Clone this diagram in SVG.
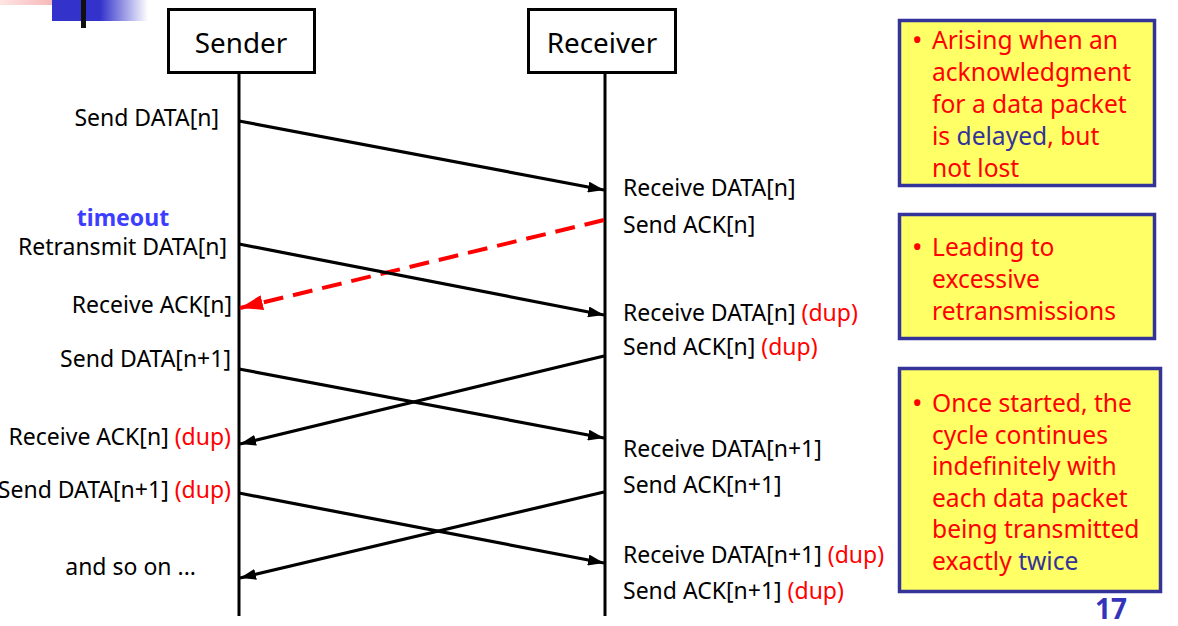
<svg xmlns="http://www.w3.org/2000/svg" width="1178" height="626" viewBox="0 0 1178 626">
<style>
  .lbl { font-family: "Noto Sans", "Liberation Sans", sans-serif; font-size: 23px; fill: #000; }
  .dup { fill: #ff0000; }
  .head { font-family: "Noto Sans", "Liberation Sans", sans-serif; font-size: 27.8px; fill: #000; text-anchor: middle; }
  .box { fill: #ffff66; stroke: #333399; stroke-width: 3.5; }
  .note { font-family: "Noto Sans", "Liberation Sans", sans-serif; font-size: 24.6px; fill: #ff0000; }
  .bul { font-family: "Noto Sans", "Liberation Sans", sans-serif; font-size: 28px; fill: #ff0000; }
  .blue { fill: #333399; }
  .actor { fill: #fff; stroke: #000; stroke-width: 3; }
  .life { stroke: #000; stroke-width: 3; }
  .msg { stroke: #000; stroke-width: 3.2; fill: none; marker-end: url(#ah); }
  .msgr { stroke: #ff0000; stroke-width: 4; fill: none; stroke-dasharray: 20 10; marker-end: url(#ahr); }
</style>
<defs>
  <marker id="ah" markerUnits="userSpaceOnUse" markerWidth="17" markerHeight="11" refX="16" refY="5.5" orient="auto">
    <path d="M0,0 L16,5.5 L0,11 z" fill="#000"/>
  </marker>
  <marker id="ahr" markerUnits="userSpaceOnUse" markerWidth="24" markerHeight="15" refX="23" refY="7.5" orient="auto">
    <path d="M0,0 L23,7.5 L0,15 z" fill="#ff0000"/>
  </marker>
  <linearGradient id="pink" x1="0" y1="0" x2="1" y2="0">
    <stop offset="0" stop-color="#ffe4e4"/>
    <stop offset="1" stop-color="#f4a8a8"/>
  </linearGradient>
  <linearGradient id="bluefade" x1="0" y1="0" x2="1" y2="0">
    <stop offset="0" stop-color="#3333cc"/>
    <stop offset="0.5" stop-color="#3333cc"/>
    <stop offset="1" stop-color="#ffffff"/>
  </linearGradient>
</defs>
<rect width="1178" height="626" fill="#fff"/>

<!-- corner decoration -->
<rect x="0" y="0" width="72" height="5" fill="url(#pink)"/>
<rect x="52" y="0" width="96" height="21" fill="url(#bluefade)"/>
<rect x="81" y="0" width="5" height="28" fill="#111"/>

<!-- actors -->
<g id="sender">
  <line class="life" x1="239" y1="74" x2="239" y2="616"/>
  <rect class="actor" x="168.5" y="9.5" width="146" height="63"/>
  <text class="head" x="241" y="53">Sender</text>
</g>
<g id="receiver">
  <line class="life" x1="605" y1="74" x2="605" y2="616"/>
  <rect class="actor" x="528.5" y="9.5" width="147" height="63"/>
  <text class="head" x="602" y="53">Receiver</text>
</g>

<!-- connectors -->
<g id="connectors">
  <line class="msg" x1="239" y1="121" x2="604" y2="190"/>
  <line class="msgr" x1="604" y1="220" x2="240" y2="308"/>
  <line class="msg" x1="239" y1="244" x2="604" y2="315"/>
  <line class="msg" x1="604" y1="356" x2="240" y2="444"/>
  <line class="msg" x1="239" y1="369" x2="604" y2="438"/>
  <line class="msg" x1="604" y1="492" x2="240" y2="578"/>
  <line class="msg" x1="239" y1="493" x2="604" y2="563"/>
</g>

<!-- sender labels -->
<g id="sender-labels">
  <text class="lbl" x="219" y="126" text-anchor="end">Send DATA[n]</text>
  <text x="123" y="226" text-anchor="middle" font-family="Noto Sans, Liberation Sans, sans-serif" font-size="23" font-weight="bold" fill="#3d3dff">timeout</text>
  <text class="lbl" x="227" y="255" text-anchor="end">Retransmit DATA[n]</text>
  <text class="lbl" x="232" y="313" text-anchor="end">Receive ACK[n]</text>
  <text class="lbl" x="231" y="367" text-anchor="end">Send DATA[n+1]</text>
  <text class="lbl" x="231" y="445" text-anchor="end">Receive ACK[n] <tspan class="dup">(dup)</tspan></text>
  <text class="lbl" x="231" y="498" text-anchor="end">Send DATA[n+1] <tspan class="dup">(dup)</tspan></text>
  <text class="lbl" x="196" y="575" text-anchor="end">and so on ...</text>
</g>

<!-- receiver labels -->
<g id="receiver-labels">
  <text class="lbl" x="623" y="196">Receive DATA[n]</text>
  <text class="lbl" x="623" y="233">Send ACK[n]</text>
  <text class="lbl" x="623" y="321">Receive DATA[n] <tspan class="dup">(dup)</tspan></text>
  <text class="lbl" x="623" y="355">Send ACK[n] <tspan class="dup">(dup)</tspan></text>
  <text class="lbl" x="623" y="457">Receive DATA[n+1]</text>
  <text class="lbl" x="623" y="493">Send ACK[n+1]</text>
  <text class="lbl" x="623" y="563">Receive DATA[n+1] <tspan class="dup">(dup)</tspan></text>
  <text class="lbl" x="623" y="599">Send ACK[n+1] <tspan class="dup">(dup)</tspan></text>
</g>

<!-- notes -->
<g id="note1">
  <rect class="box" x="899.5" y="20.5" width="255" height="165"/>
  <text class="bul" x="912" y="50">•</text>
  <text class="note" x="932" y="49">Arising when an</text>
  <text class="note" x="932" y="81">acknowledgment</text>
  <text class="note" x="932" y="113">for a data packet</text>
  <text class="note" x="932" y="145">is <tspan class="blue">delayed</tspan>, but</text>
  <text class="note" x="932" y="177">not lost</text>
</g>
<g id="note2">
  <rect class="box" x="899.5" y="214.5" width="255" height="124"/>
  <text class="bul" x="912" y="257">•</text>
  <text class="note" x="932" y="256">Leading to</text>
  <text class="note" x="932" y="288">excessive</text>
  <text class="note" x="932" y="320">retransmissions</text>
</g>
<g id="note3">
  <rect class="box" x="899.5" y="368.5" width="261" height="223"/>
  <text class="bul" x="912" y="413">•</text>
  <text class="note" x="932" y="412">Once started, the</text>
  <text class="note" x="932" y="443.5">cycle continues</text>
  <text class="note" x="932" y="475">indefinitely with</text>
  <text class="note" x="932" y="506.5">each data packet</text>
  <text class="note" x="932" y="538">being transmitted</text>
  <text class="note" x="932" y="569.5">exactly <tspan class="blue">twice</tspan></text>
</g>

<text x="1111" y="619" text-anchor="middle" font-family="Noto Sans, Liberation Sans, sans-serif" font-size="28" font-weight="bold" fill="#3333bb">17</text>
</svg>
